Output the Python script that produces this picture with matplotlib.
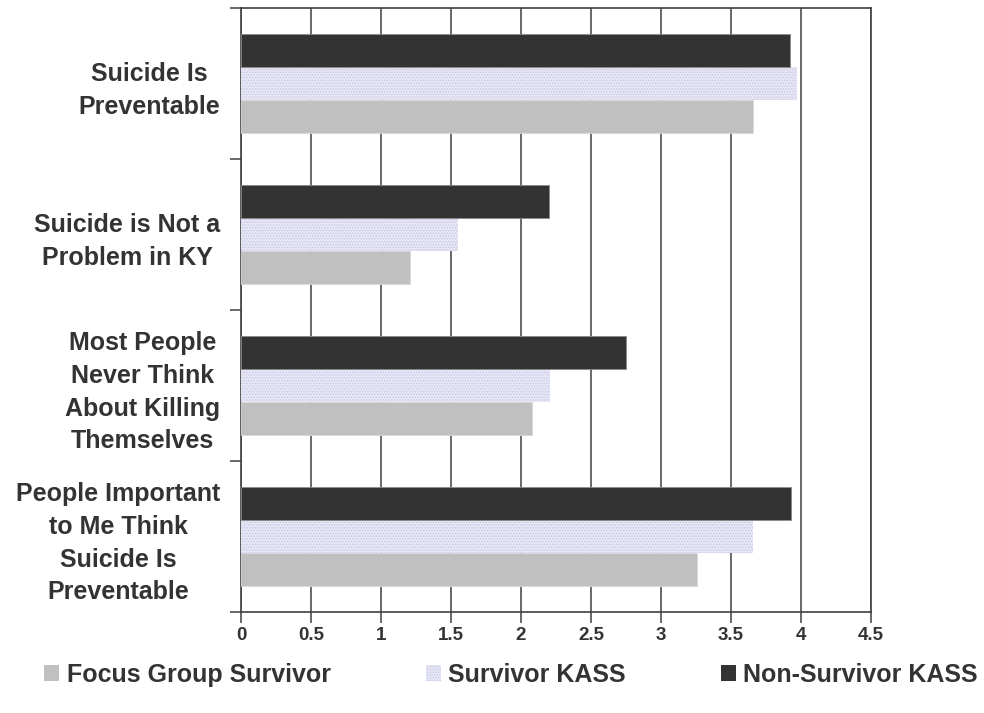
import matplotlib
matplotlib.use("Agg")
import matplotlib.pyplot as plt
from matplotlib.patches import Patch
import numpy as np

categories = ["People Important\nto Me Think\nSuicide Is\nPreventable",
              "Most People\nNever Think\nAbout Killing\nThemselves",
              "Suicide is Not a\nProblem in KY",
              "Suicide Is\nPreventable"]
focus_group = [3.26, 2.08, 1.21, 3.66]
survivor_kass = [3.66, 2.21, 1.55, 3.97]
non_survivor_kass = [3.93, 2.75, 2.20, 3.92]
series_names = ["Focus Group Survivor", "Survivor KASS", "Non-Survivor KASS"]
x_ticks = [0, 0.5, 1, 1.5, 2, 2.5, 3, 3.5, 4, 4.5]
x_tick_labels = ["0", "0.5", "1", "1.5", "2", "2.5", "3", "3.5", "4", "4.5"]

plt.rcParams['font.family'] = ['Liberation Sans', 'DejaVu Sans']
plt.rcParams['hatch.linewidth'] = 0.6

fig = plt.figure(figsize=(9.84, 7.13), dpi=100)
ax = fig.add_axes([241/984, 1-612/713, 630/984, 604/713])

y = np.arange(len(categories))
h = 0.218
gray = "#C0C0C0"
lav_face = "#E6E6F5"
lav_edge = "#C6C6E6"
dark = "#333333"

ax.barh(y - h, focus_group, height=h, color=gray, edgecolor="#D8D8D8", linewidth=0.6, zorder=3)
ax.barh(y, survivor_kass, height=h, facecolor=lav_face, edgecolor=lav_edge, hatch="......",
        linewidth=0, zorder=3)
ax.barh(y + h, non_survivor_kass, height=h, color=dark, edgecolor="#8A8A8A", linewidth=0.6, zorder=3)

ax.set_xlim(0, 4.5)
ax.set_ylim(-0.5, len(categories) - 0.5)
ax.set_xticks(x_ticks)
ax.set_xticklabels(x_tick_labels, fontsize=13.5, fontweight="bold", color="#333333")
ax.set_yticks(y)
ax.set_yticklabels(categories, fontsize=18, fontweight="bold", color="#333333",
                   ha="right", multialignment="center", linespacing=1.45)
ax.tick_params(axis="y", which="major", length=0, pad=15)
ax.set_yticks(np.arange(-0.5, len(categories), 1), minor=True)
ax.tick_params(axis="y", which="minor", length=8, width=1.1, color="#404040", direction="out")
ax.tick_params(axis="x", which="major", length=8, width=1.1, color="#404040", direction="out", pad=3)

ax.grid(axis="x", color="#404040", linewidth=1.1, zorder=0)
ax.set_axisbelow(True)
for s in ax.spines.values():
    s.set_color("#404040")
    s.set_linewidth(1.2)

handles = [Patch(facecolor=gray, edgecolor="none"),
           Patch(facecolor=lav_face, edgecolor=lav_edge, hatch="......", linewidth=0),
           Patch(facecolor=dark, edgecolor="none")]
leg = fig.legend(handles, series_names, loc="center", bbox_to_anchor=(511/984, 1-675/713),
                 ncol=3, frameon=False, handlelength=0.6, handleheight=0.6, handletextpad=0.3,
                 columnspacing=3.8, prop={"size": 18, "weight": "bold"})
for t in leg.get_texts():
    t.set_color("#333333")

fig.savefig("out.png", dpi=100)
